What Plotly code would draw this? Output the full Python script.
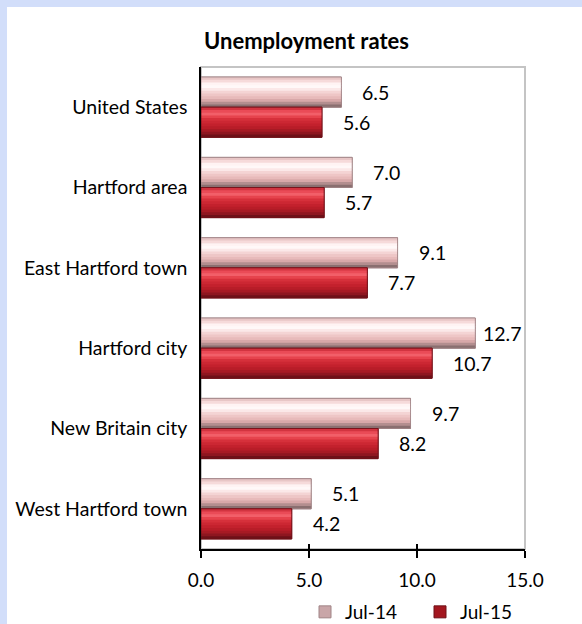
import plotly.graph_objects as go

categories = ["United States", "Hartford area", "East Hartford town",
              "Hartford city", "New Britain city", "West Hartford town"]
jul14 = [6.5, 7.0, 9.1, 12.7, 9.7, 5.1]
jul15 = [5.6, 5.7, 7.7, 10.7, 8.2, 4.2]
series_names = ["Jul-14", "Jul-15"]
x_ticks = [0, 5, 10, 15]

FONT = "Lato"
W, H = 582, 624
L, R, T, B = 201, 57, 67, 75
pw, ph = W - L - R, H - T - B


def px_x(p):
    return (p - L) / pw


def px_y(p):
    return 1 - (p - T) / ph


# vertical gradient (top -> bottom) for each series, imitating the bevelled bars
gradients = [
    ["#e8c6c6", "#f6dada", "#fff3f3", "#fff8f8", "#fbe8e8", "#f4d4d4",
     "#eec6c6", "#e7baba", "#d8a8a9", "#b38e8f", "#8a6f70"],
    ["#d23440", "#ea4b57", "#f25f69", "#e6434d", "#d6303b", "#cc2733",
     "#c3212d", "#b81d28", "#a71a24", "#8e1620", "#6e1018"],
]
legend_colors = ["#c9a6a8", "#a3161f"]
outline_colors = ["#a08486", "#6e1018"]
bw = 0.375
offsets = [-bw, 0.0]

fig = go.Figure()
for i, (name, vals) in enumerate(zip(series_names, [jul14, jul15])):
    o = offsets[i]
    grad = gradients[i]
    n = len(grad)
    fig.add_trace(go.Bar(
        y=categories, x=vals, orientation="h", name=name,
        offset=o, width=bw,
        marker=dict(color=legend_colors[i], line=dict(color=outline_colors[i], width=1)),
        hovertemplate="%{y}: %{x:.1f}<extra>" + name + "</extra>",
    ))
    for k, col in enumerate(grad):
        sw = bw / n
        fig.add_trace(go.Bar(
            y=categories, x=vals, orientation="h", showlegend=False,
            offset=o + k * sw, width=sw * (1.25 if k < n - 1 else 1.0),
            marker=dict(color=col, line=dict(width=0)),
            hoverinfo="skip",
        ))
    fig.add_trace(go.Bar(
        y=categories, x=vals, orientation="h", showlegend=False,
        offset=o, width=bw,
        marker=dict(color="rgba(0,0,0,0)", line=dict(color=outline_colors[i], width=0.8)),
        hoverinfo="skip",
    ))

lab_font = dict(family=FONT, size=19.5, color="#000")
annotations = []
for i, vals in enumerate([jul14, jul15]):
    for idx, v in enumerate(vals):
        yc = idx + offsets[i] + bw / 2
        if v > x_ticks[-1] - 2.8:
            annotations.append(dict(x=x_ticks[-1], y=yc, xref="x", yref="y", text=f"{v:.1f}",
                                    showarrow=False, xanchor="right", xshift=-1,
                                    font=lab_font))
        else:
            annotations.append(dict(x=v, y=yc, xref="x", yref="y", text=f"{v:.1f}",
                                    showarrow=False, xanchor="left", xshift=19,
                                    font=lab_font))

annotations.append(dict(x=px_x(306), y=px_y(41), xref="paper", yref="paper",
                        text="<b>Unemployment rates</b>", showarrow=False,
                        xanchor="center", yanchor="middle",
                        font=dict(family=FONT, size=22, color="#000")))

shapes = [
    dict(type="rect", xref="paper", yref="paper", x0=px_x(0), x1=px_x(7),
         y0=px_y(H), y1=px_y(0), fillcolor="#d2defa", line=dict(width=0), layer="below"),
    dict(type="rect", xref="paper", yref="paper", x0=px_x(0), x1=px_x(W),
         y0=px_y(7), y1=px_y(0), fillcolor="#d2defa", line=dict(width=0), layer="below"),
    dict(type="rect", xref="paper", yref="paper", x0=0, x1=1, y0=0, y1=1,
         line=dict(color="#c4c4c4", width=2), layer="below"),
]

fig.update_layout(
    width=W, height=H,
    margin=dict(l=L, r=R, t=T, b=B, autoexpand=False),
    paper_bgcolor="white", plot_bgcolor="white",
    barmode="overlay",
    font=dict(family=FONT, size=19, color="#000"),
    showlegend=True,
    legend=dict(orientation="h", x=px_x(305), y=px_y(612), xanchor="left", yanchor="middle",
                font=dict(family=FONT, size=19), itemwidth=30,
                entrywidth=70, entrywidthmode="pixels",
                traceorder="normal", bgcolor="rgba(0,0,0,0)"),
    annotations=annotations,
    shapes=shapes,
    xaxis=dict(range=[0, 15], tickvals=x_ticks, ticktext=[f"{t:.1f}" for t in x_ticks],
               showgrid=False, zeroline=False, showline=True, linecolor="#000", linewidth=1.5,
               ticks="outside", ticklen=7, tickcolor="#000", tickwidth=1.5,
               ticklabelstandoff=6,
               tickfont=dict(family=FONT, size=19), fixedrange=True),
    xaxis2=dict(range=[0, 15], tickvals=x_ticks, overlaying="x", anchor="y", side="bottom",
                showticklabels=False, showgrid=False, zeroline=False, showline=False,
                ticks="inside", ticklen=5, tickcolor="#000", tickwidth=1.5, fixedrange=True),
    yaxis=dict(autorange="reversed", showgrid=False, zeroline=False, showline=True,
               linecolor="#000", linewidth=1.5, ticks="", ticklabelstandoff=8,
               tickfont=dict(family=FONT, size=19.5), fixedrange=True),
)

# invisible helper trace so the inner tick marks of xaxis2 are drawn
fig.add_trace(go.Scatter(x=[None], y=[None], xaxis="x2", yaxis="y", showlegend=False,
                         hoverinfo="skip"))

fig.write_html("out.html", config={"displayModeBar": False},
               post_script="document.body.style.margin='0px';")
